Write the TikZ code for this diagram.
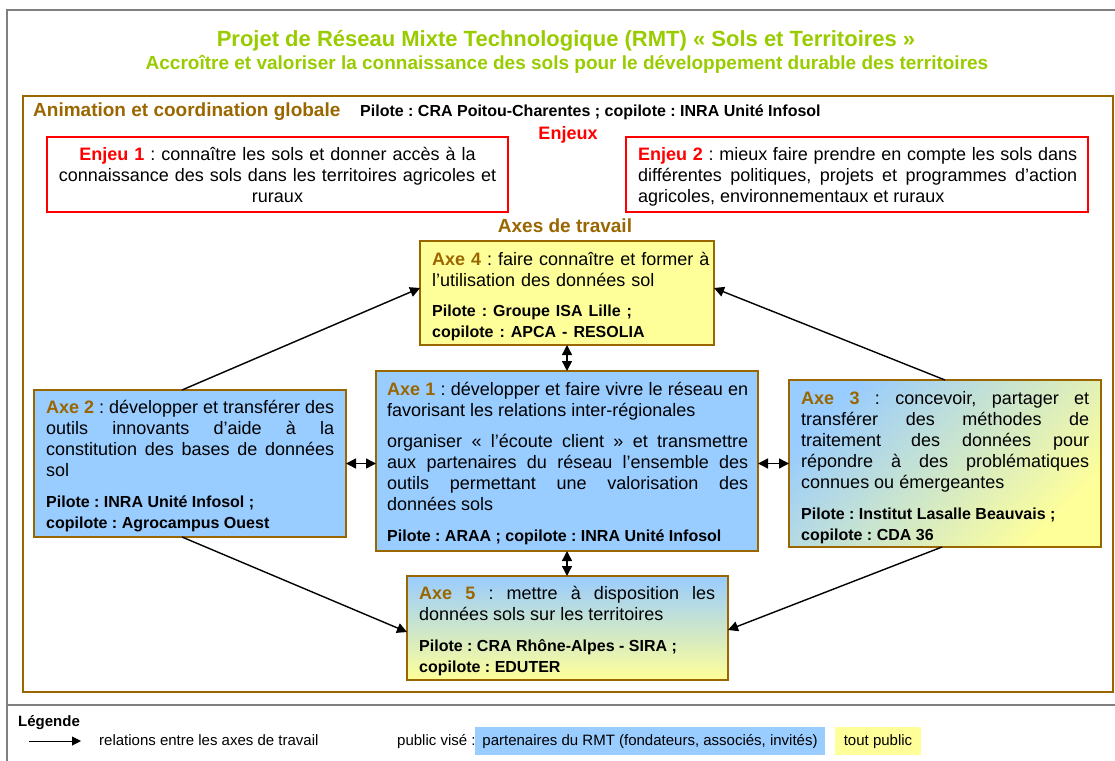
\documentclass[tikz,border=0pt]{standalone}
\usepackage{fontspec}
\setmainfont{Liberation Sans}
\usetikzlibrary{arrows.meta,calc}
\definecolor{rmtgreen}{HTML}{99CC00}
\definecolor{rmtbrown}{HTML}{996600}
\definecolor{rmtblue}{HTML}{99CCFF}
\definecolor{rmtyellow}{HTML}{FFFF99}
\definecolor{rmtred}{HTML}{FF0000}
\definecolor{rmtgray}{HTML}{808080}
\setlength\parindent{0pt}
\frenchspacing
\tolerance=10000 \hbadness=10000 \hfuzz=6pt
\hyphenpenalty=10000 \exhyphenpenalty=10000
\lefthyphenmin=62 \righthyphenmin=62
\newcommand\bodyf{\fontsize{18}{21}\selectfont}
\newcommand\pilf{\fontsize{16}{19.5}\selectfont\bfseries}
\newcommand\legf{\fontsize{15}{18}\selectfont}
\newcommand\tstrut{\rule{0pt}{14pt}}
\newcommand\axl[1]{\textbf{\textcolor{rmtbrown}{#1}}}
\newcommand\enl[1]{\textbf{\textcolor{rmtred}{#1}}}
\tikzset{
  axebox/.style={draw=rmtbrown, line width=1.6pt, anchor=north west, inner sep=0pt, outer sep=0pt},
  enjbox/.style={draw=rmtred, line width=1.5pt, anchor=north west, inner sep=0pt, outer sep=0pt},
  txt/.style={anchor=north west, inner sep=0pt, text width=#1, align=justify, font=\bodyf},
  lbl/.style={anchor=base west, inner sep=0pt},
  cbl/.style={anchor=base, inner sep=0pt},
  rel/.style={line width=1.4pt, -{Triangle[length=10pt,width=10pt]}},
  bi/.style={line width=1.4pt, {Triangle[length=10pt,width=10pt]}-{Triangle[length=10pt,width=10pt]}},
}
\begin{document}
\begin{tikzpicture}[x=1pt,y=-1pt]
\useasboundingbox (0,0) rectangle (1115,760);
% outer gray frame
\draw[rmtgray, line width=1.5pt] (7,770) -- (7,10) -- (1117,10);
\draw[rmtgray, line width=1.5pt] (7,705) -- (1117,705);
% titles
\node[cbl, font=\fontsize{22}{26}\selectfont\bfseries, text=rmtgreen] (title) at (566,47) {Projet de Réseau Mixte Technologique (RMT) « Sols et Territoires »};
\node[cbl, font=\fontsize{19}{23}\selectfont\bfseries, text=rmtgreen] (subtitle) at (567,70) {Accroître et valoriser la connaissance des sols pour le développement durable des territoires};
% brown frame
\node[draw=rmtbrown, line width=2pt, anchor=north west, minimum width=1090pt, minimum height=596pt, inner sep=0pt] (frame) at (22,95) {};
\node[lbl, font=\fontsize{19}{23}\selectfont\bfseries, text=rmtbrown] (anim) at (33,116) {Animation et coordination globale};
\node[lbl, font=\fontsize{16}{19}\selectfont\bfseries] (pil0) at (360,116) {Pilote : CRA Poitou-Charentes ; copilote : INRA Unité Infosol};
\node[cbl, font=\fontsize{18}{21}\selectfont\bfseries, text=rmtred] (enjeux) at (568,139) {Enjeux};
\node[cbl, font=\fontsize{19}{23}\selectfont\bfseries, text=rmtbrown] (axes) at (565,232) {Axes de travail};
% enjeux
\node[enjbox, minimum width=461pt, minimum height=75pt] (enj1) at (47,137) {};
\node[txt=455pt, align=center, anchor=north] (te1) at (277.5,146) {\tstrut\enl{Enjeu 1} : connaître les sols et donner accès à la\\ connaissance des sols dans les territoires agricoles et\\ ruraux};
\node[enjbox, minimum width=462pt, minimum height=75pt] (enj2) at (626,137) {};
\node[txt=439pt] (te2) at (638,146) {\tstrut\enl{Enjeu 2} : mieux faire prendre en compte les sols dans\linebreak différentes politiques, projets et programmes d’action\linebreak agricoles, environnementaux et ruraux};
% axes boxes
\node[axebox, fill=rmtyellow, minimum width=294pt, minimum height=104pt] (axe4) at (420,241) {};
\node[axebox, fill=rmtblue, minimum width=382pt, minimum height=180pt] (axe1) at (376,371) {};
\node[axebox, fill=rmtblue, minimum width=312pt, minimum height=147pt] (axe2) at (34,390) {};
\node[axebox, top color=rmtblue, bottom color=rmtyellow, shading angle=45, minimum width=312pt, minimum height=167pt] (axe3) at (789,380) {};
\node[axebox, top color=rmtblue, bottom color=rmtyellow, minimum width=321pt, minimum height=104pt] (axe5) at (407,576) {};
% axes texts
\node[txt=285pt, align=left] (t4) at (432,251) {\tstrut\axl{Axe 4} : faire connaître et former à\\ l’utilisation des données sol\par\vspace{10.5pt}\pilf Pilote : Groupe ISA Lille ;\\ copilote : APCA - RESOLIA};
\node[txt=361pt] (t1) at (387,381) {\tstrut\axl{Axe 1} : développer et faire vivre le réseau en\linebreak favorisant les relations inter-régionales\par\vspace{10pt}organiser «~l’écoute client~» et transmettre\linebreak aux partenaires du réseau l’ensemble des\linebreak outils permettant une valorisation des\linebreak données sols\par\vspace{10pt}\pilf Pilote : ARAA ; copilote : INRA Unité Infosol};
\node[txt=288pt] (t2) at (46,399) {\tstrut\axl{Axe 2} : développer et transférer des\linebreak outils innovants d’aide à la\linebreak constitution des bases de données\linebreak sol\par\vspace{10.5pt}\pilf Pilote : INRA Unité Infosol ;\newline copilote : Agrocampus Ouest};
\node[txt=288pt] (t3) at (801,390) {\tstrut\axl{Axe 3} : concevoir, partager et\linebreak transférer des méthodes de\linebreak traitement\hspace{8pt} des données pour\linebreak répondre à des problématiques\linebreak connues ou émergeantes\par\vspace{10.5pt}\pilf Pilote : Institut Lasalle Beauvais ;\newline copilote : CDA 36};
\node[txt=296pt] (t5) at (419,585) {\tstrut\axl{Axe 5} : mettre à disposition les\linebreak données sols sur les territoires\par\vspace{10.5pt}\pilf Pilote : CRA Rhône-Alpes - SIRA ;\newline copilote : EDUTER};
% connectors
\draw[bi] (axe4.south) -- (axe1.north);
\draw[bi] (axe1.south) -- (axe1.south |- axe5.north);
\draw[bi] (axe2.east) -- (axe2.east -| axe1.west);
\draw[bi] (axe3.west -| axe1.east) -- (axe3.west);
\draw[rel] ($(axe2.north)+(-8,0)$) -- ($(axe4.west)+(0,-5)$);
\draw[rel] (axe3.north) -- ($(axe4.east)+(0,-5)$);
\draw[rel] ($(axe2.south)+(-8,0)$) -- ($(axe5.west)+(0,4)$);
\draw[rel] ($(axe3.south)+(-3,0)$) -- ($(axe5.east)+(0,2)$);
% legend
\node[lbl, font=\legf\bfseries] (leg) at (18,726) {Légende};
\coordinate (la) at (29,741);
\coordinate (lb) at (81,741);
\draw[line width=1pt, -{Triangle[length=9pt,width=9pt]}] (la) -- (lb);
\node[lbl, font=\legf] (legrel) at (99,745) {relations entre les axes de travail};
\node[lbl, font=\legf] (legpub) at (397,745) {public visé :};
\node[fill=rmtblue, anchor=north west, minimum width=350pt, minimum height=28pt, inner sep=0pt] (legblue) at (475,727) {};
\node[cbl, font=\legf] (legbluet) at (650,745) {partenaires du RMT (fondateurs, associés, invités)};
\node[fill=rmtyellow, anchor=north west, minimum width=86pt, minimum height=28pt, inner sep=0pt] (legyel) at (835,727) {};
\node[cbl, font=\legf] (legyelt) at (878,745) {tout public};
\end{tikzpicture}
\end{document}
